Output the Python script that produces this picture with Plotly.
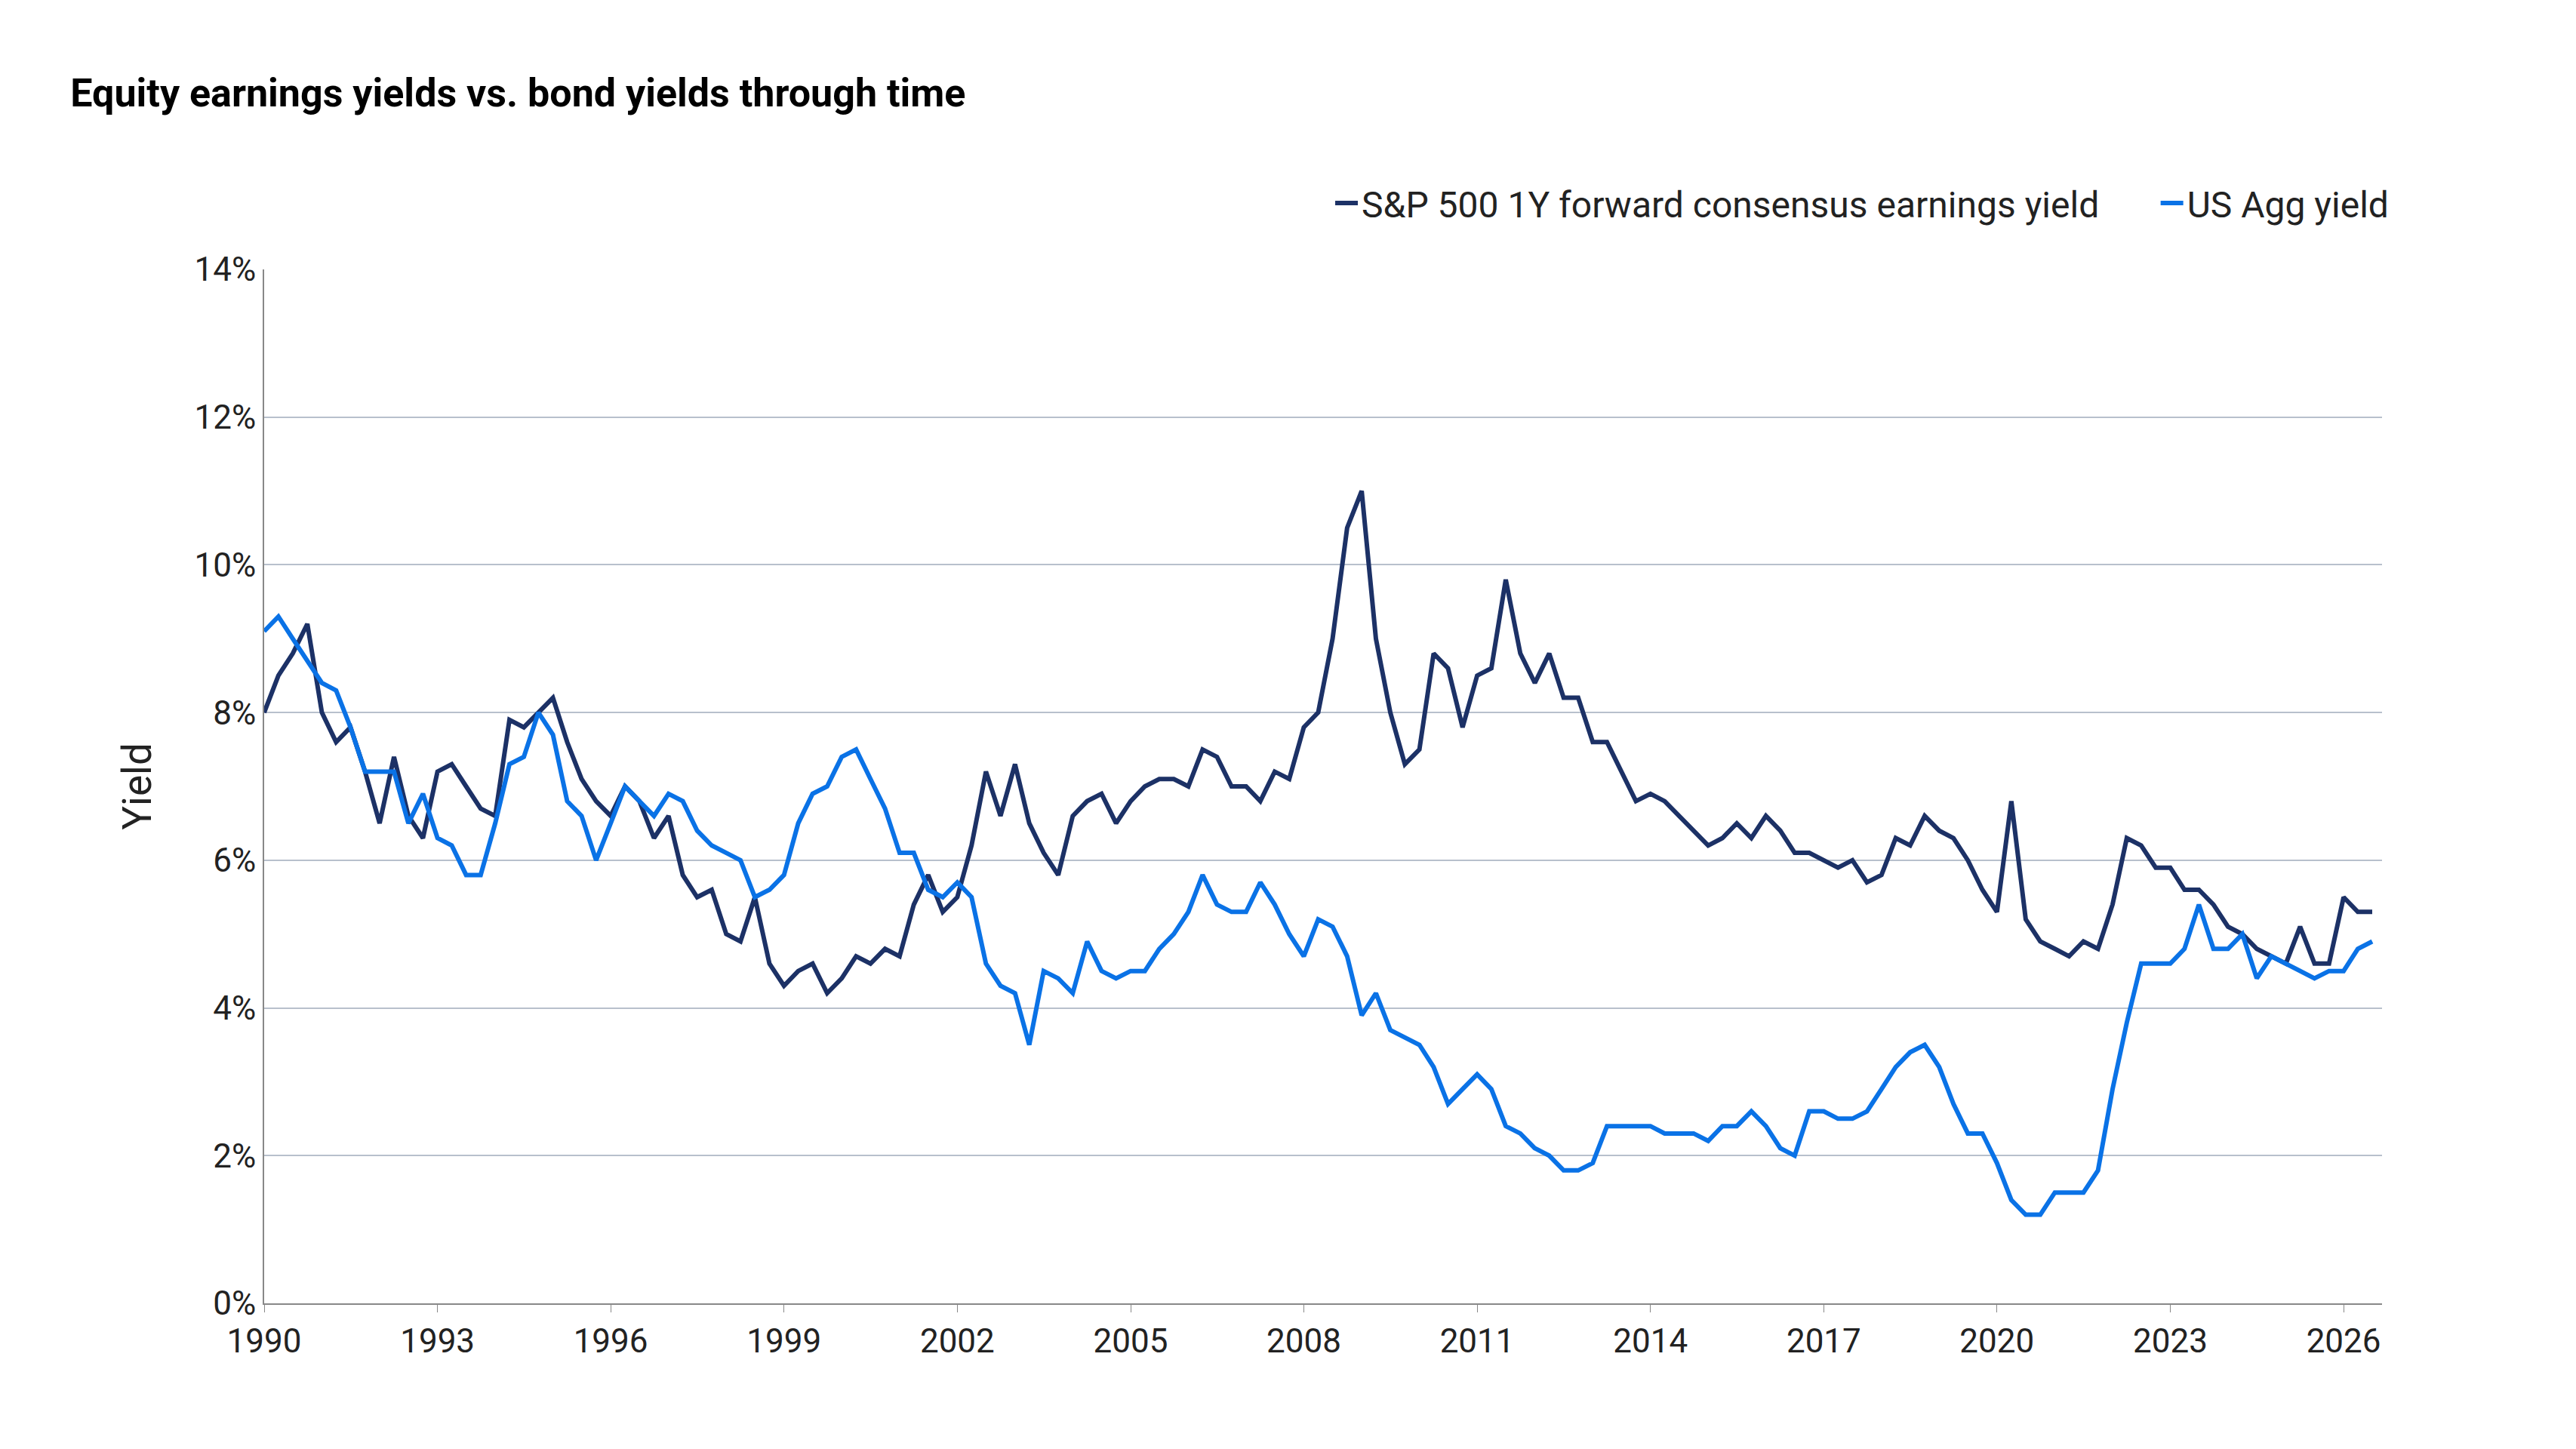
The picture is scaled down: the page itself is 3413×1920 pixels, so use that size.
import plotly.graph_objects as go
import pandas as pd

spx_ey = [8.0,8.5,8.8,9.2, 8.0,7.6,7.8,7.2, 6.5,7.4,6.6,6.3, 7.2,7.3,7.0,6.7,
          6.6,7.9,7.8,8.0, 8.2,7.6,7.1,6.8, 6.6,7.0,6.8,6.3, 6.6,5.8,5.5,5.6,
          5.0,4.9,5.5,4.6, 4.3,4.5,4.6,4.2, 4.4,4.7,4.6,4.8, 4.7,5.4,5.8,5.3,
          5.5,6.2,7.2,6.6, 7.3,6.5,6.1,5.8, 6.6,6.8,6.9,6.5, 6.8,7.0,7.1,7.1,
          7.0,7.5,7.4,7.0, 7.0,6.8,7.2,7.1, 7.8,8.0,9.0,10.5, 11.0,9.0,8.0,7.3,
          7.5,8.8,8.6,7.8, 8.5,8.6,9.8,8.8, 8.4,8.8,8.2,8.2, 7.6,7.6,7.2,6.8,
          6.9,6.8,6.6,6.4, 6.2,6.3,6.5,6.3, 6.6,6.4,6.1,6.1, 6.0,5.9,6.0,5.7,
          5.8,6.3,6.2,6.6, 6.4,6.3,6.0,5.6, 5.3,6.8,5.2,4.9, 4.8,4.7,4.9,4.8,
          5.4,6.3,6.2,5.9, 5.9,5.6,5.6,5.4, 5.1,5.0,4.8,4.7, 4.6,5.1,4.6,4.6,
          5.5,5.3,5.3]
agg_yield = [9.1,9.3,9.0,8.7, 8.4,8.3,7.8,7.2, 7.2,7.2,6.5,6.9, 6.3,6.2,5.8,5.8,
             6.5,7.3,7.4,8.0, 7.7,6.8,6.6,6.0, 6.5,7.0,6.8,6.6, 6.9,6.8,6.4,6.2,
             6.1,6.0,5.5,5.6, 5.8,6.5,6.9,7.0, 7.4,7.5,7.1,6.7, 6.1,6.1,5.6,5.5,
             5.7,5.5,4.6,4.3, 4.2,3.5,4.5,4.4, 4.2,4.9,4.5,4.4, 4.5,4.5,4.8,5.0,
             5.3,5.8,5.4,5.3, 5.3,5.7,5.4,5.0, 4.7,5.2,5.1,4.7, 3.9,4.2,3.7,3.6,
             3.5,3.2,2.7,2.9, 3.1,2.9,2.4,2.3, 2.1,2.0,1.8,1.8, 1.9,2.4,2.4,2.4,
             2.4,2.3,2.3,2.3, 2.2,2.4,2.4,2.6, 2.4,2.1,2.0,2.6, 2.6,2.5,2.5,2.6,
             2.9,3.2,3.4,3.5, 3.2,2.7,2.3,2.3, 1.9,1.4,1.2,1.2, 1.5,1.5,1.5,1.8,
             2.9,3.8,4.6,4.6, 4.6,4.8,5.4,4.8, 4.8,5.0,4.4,4.7, 4.6,4.5,4.4,4.5,
             4.5,4.8,4.9]
dates = pd.date_range("1990-01-01", periods=len(spx_ey), freq="QS")
tick_years = list(range(1990, 2027, 3))

fig = go.Figure()
fig.add_trace(go.Scatter(x=dates, y=[v/100 for v in spx_ey], mode="lines",
                         name="S&P 500 1Y forward consensus earnings yield      ",
                         line=dict(color="#1c3166", width=6)))
fig.add_trace(go.Scatter(x=dates, y=[v/100 for v in agg_yield], mode="lines",
                         name="US Agg yield", line=dict(color="#0a72e6", width=6)))

fig.update_layout(
    width=3413, height=1920, paper_bgcolor="white", plot_bgcolor="white",
    font=dict(family="Roboto", color="#222", size=44),
    title=dict(text="<b>Equity earnings yields vs. bond yields through time</b>",
               x=0.025, xanchor="left", y=0.94, yanchor="middle",
               font=dict(size=52, color="black")),
    margin=dict(l=342, r=265, t=349, b=201),
    legend=dict(orientation="h", x=1.005, xanchor="right", y=1.064, yanchor="middle",
                font=dict(size=48), itemwidth=30),
    xaxis=dict(range=[pd.Timestamp("1990-01-01"), pd.Timestamp("2026-09-01")],
               tickvals=[pd.Timestamp(f"{y}-01-01") for y in tick_years],
               ticktext=[str(y) for y in tick_years],
               showgrid=False, showline=True, linecolor="#888", linewidth=2,
               ticks="outside", ticklen=10, tickcolor="#888"),
    yaxis=dict(range=[0, 0.14], dtick=0.02, tickformat=".0%",
               title=dict(text="Yield", standoff=40),
               showgrid=True, gridcolor="#b8c0cc", gridwidth=2,
               showline=True, linecolor="#888", linewidth=2, zeroline=False),
)
fig.write_html("out.html")
